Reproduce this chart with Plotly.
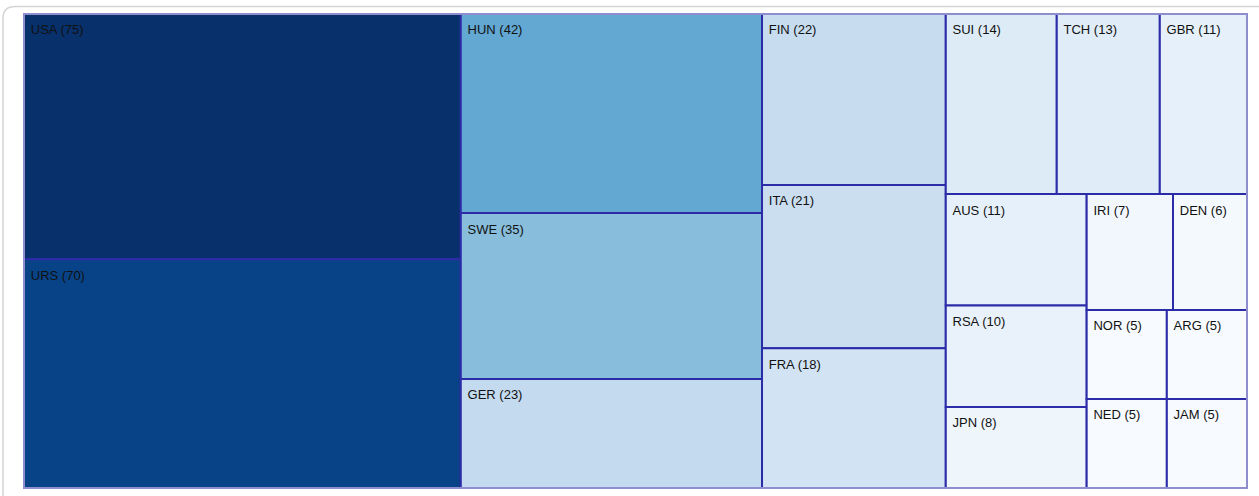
import plotly.graph_objects as go
import plotly.colors as pc

countries = ["USA", "URS", "HUN", "SWE", "GER", "FIN", "ITA", "FRA", "SUI", "TCH",
             "GBR", "AUS", "RSA", "JPN", "IRI", "DEN", "NOR", "ARG", "NED", "JAM"]
medals = [75, 70, 42, 35, 23, 22, 21, 18, 14, 13, 11, 11, 10, 8, 7, 6, 5, 5, 5, 5]
parents = [""] * len(countries)

W, H = 1259, 496
ML, MR, MT, MB = 24, 12, 14, 8
PW, PH = W - ML - MR, H - MT - MB

def px_x(x):
    return (x - ML) / PW

def px_y(y):
    return 1 - (y - MT) / PH

blues = pc.sequential.Blues
scale = [[i / (len(blues) - 1), c] for i, c in enumerate(blues)]

fig = go.Figure(go.Treemap(
    labels=countries,
    parents=parents,
    values=medals,
    texttemplate="<sup><span style='font-size:13.5px'>\u00a0</span></sup>%{label} (%{value})",
    textposition="top left",
    textfont=dict(family="Liberation Sans, Arial, sans-serif", size=13, color="#111111"),
    marker=dict(
        colors=medals,
        colorscale=scale,
        cmin=min(medals),
        cmax=max(medals),
        showscale=False,
        line=dict(color="#2c2ca8", width=2),
        pad=dict(t=0, l=0, r=0, b=0),
    ),
    root=dict(color="rgba(0,0,0,0)"),
    pathbar=dict(visible=False),
    tiling=dict(packing="squarify", squarifyratio=1.618034, pad=0),
    sort=True,
    hoverinfo="label+value",
))

# rounded card border
x0, x1 = 3, 1275
y0, y1 = 6.5, 505
r = 12
path = (
    f"M {px_x(x0 + r)},{px_y(y0)} L {px_x(x1 - r)},{px_y(y0)} "
    f"Q {px_x(x1)},{px_y(y0)} {px_x(x1)},{px_y(y0 + r)} "
    f"L {px_x(x1)},{px_y(y1 - r)} Q {px_x(x1)},{px_y(y1)} {px_x(x1 - r)},{px_y(y1)} "
    f"L {px_x(x0 + r)},{px_y(y1)} Q {px_x(x0)},{px_y(y1)} {px_x(x0)},{px_y(y1 - r)} "
    f"L {px_x(x0)},{px_y(y0 + r)} Q {px_x(x0)},{px_y(y0)} {px_x(x0 + r)},{px_y(y0)} Z"
)

fig.update_layout(
    width=W, height=H,
    margin=dict(l=ML, r=MR, t=MT, b=MB),
    paper_bgcolor="white",
    font=dict(family="Liberation Sans, Arial, sans-serif"),
    shapes=[
        dict(type="path", path=path, xref="paper", yref="paper",
             line=dict(color="#d4d4d4", width=1.5), fillcolor="rgba(0,0,0,0)",
             layer="below"),
        dict(type="rect", xref="paper", yref="paper", x0=0, x1=1, y0=0, y1=1,
             line=dict(color="#8e8ecf", width=2), fillcolor="rgba(0,0,0,0)",
             layer="above"),
    ],
)

fig.write_html("out.html")
